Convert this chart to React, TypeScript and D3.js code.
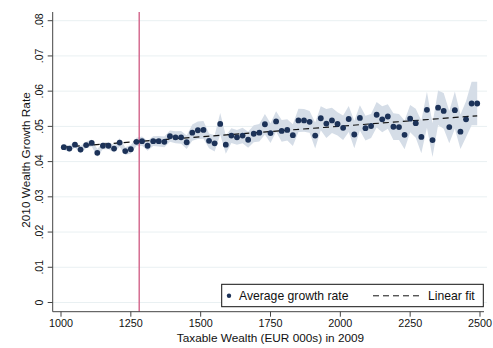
import React from "react";
import * as d3 from "d3";

const wealthBins = [
  1010, 1030, 1050, 1070, 1090, 1110, 1130, 1150, 1170, 1190,
  1210, 1230, 1250, 1270, 1290, 1310, 1330, 1350, 1370, 1390,
  1410, 1430, 1450, 1470, 1490, 1510, 1530, 1550, 1570, 1590,
  1610, 1630, 1650, 1670, 1690, 1710, 1730, 1750, 1770, 1790,
  1810, 1830, 1850, 1870, 1890, 1910, 1930, 1950, 1970, 1990,
  2010, 2030, 2050, 2070, 2090, 2110, 2130, 2150, 2170, 2190,
  2210, 2230, 2250, 2270, 2290, 2310, 2330, 2350, 2370, 2390,
  2410, 2430, 2450, 2470, 2490,
];

const growthRate = [
  0.0441, 0.0437, 0.0448, 0.0434, 0.0447, 0.0453, 0.0425, 0.0445, 0.0445, 0.0437,
  0.0454, 0.0430, 0.0435, 0.0456, 0.0458, 0.0445, 0.0458, 0.0458, 0.0456, 0.0472,
  0.0469, 0.0469, 0.0455, 0.0482, 0.0489, 0.0490, 0.0459, 0.0452, 0.0507, 0.0448,
  0.0474, 0.0469, 0.0474, 0.0462, 0.0479, 0.0482, 0.0506, 0.0481, 0.0514, 0.0487,
  0.0490, 0.0475, 0.0517, 0.0517, 0.0513, 0.0474, 0.0523, 0.0508, 0.0517, 0.0507,
  0.0496, 0.0521, 0.0477, 0.0524, 0.0495, 0.0501, 0.0533, 0.0520, 0.0528, 0.0499,
  0.0498, 0.0476, 0.0522, 0.0509, 0.0470, 0.0547, 0.0461, 0.0553, 0.0544, 0.0498,
  0.0546, 0.0485, 0.0520, 0.0565, 0.0565,
];

const ciHalfWidth = [
  0.0008, 0.0009, 0.0008, 0.0010, 0.0009, 0.0010, 0.0011, 0.0010, 0.0010, 0.0011,
  0.0012, 0.0011, 0.0012, 0.0012, 0.0013, 0.0014, 0.0014, 0.0015, 0.0015, 0.0016,
  0.0017, 0.0018, 0.0019, 0.0023, 0.0025, 0.0025, 0.0021, 0.0023, 0.0031, 0.0026,
  0.0021, 0.0021, 0.0022, 0.0023, 0.0024, 0.0025, 0.0029, 0.0028, 0.0029, 0.0031,
  0.0030, 0.0031, 0.0033, 0.0032, 0.0031, 0.0037, 0.0034, 0.0041, 0.0036, 0.0033,
  0.0035, 0.0037, 0.0039, 0.0036, 0.0035, 0.0034, 0.0036, 0.0037, 0.0035, 0.0038,
  0.0037, 0.0041, 0.0039, 0.0041, 0.0046, 0.0051, 0.0048, 0.0049, 0.0051, 0.0046,
  0.0053, 0.0049, 0.0051, 0.0062, 0.0062,
];

const fitX = [1010, 2490];
const fitY = [0.0441, 0.053];

const xTicks = [1000, 1250, 1500, 1750, 2000, 2250, 2500];
const yTicks = [0, 0.01, 0.02, 0.03, 0.04, 0.05, 0.06, 0.07, 0.08];
const yTickLabels = ["0", ".01", ".02", ".03", ".04", ".05", ".06", ".07", ".08"];
const cutoff = 1280;

const FONT = "'Liberation Sans', Arial, sans-serif";

export default function App() {
  const W = 493;
  const H = 348;
  const left = 52.7;
  const right = 487;
  const top = 12;
  const bottom = 311.7;

  const x = d3.scaleLinear().domain([1000, 2500]).range([61, 480]);
  const y = d3.scaleLinear().domain([0, 0.08]).range([302.5, 20.7]);

  const pts = wealthBins.map((w, i) => ({ w, v: growthRate[i], h: ciHalfWidth[i] }));

  const band = d3
    .area<{ w: number; v: number; h: number }>()
    .x((d) => x(d.w))
    .y0((d) => y(d.v - d.h))
    .y1((d) => y(d.v + d.h));

  const fitLine = d3
    .line<number>()
    .x((d) => x(d))
    .y((_, i) => y(fitY[i]));

  return (
    <svg
      width={W}
      height={H}
      style={{ position: "absolute", left: 0, top: 0, background: "#fff" }}
      fontFamily={FONT}
    >
      <rect x={0} y={0} width={W} height={H} fill="#fff" />
      {yTicks.map((t) => (
        <line key={"g" + t} x1={left} x2={right} y1={y(t)} y2={y(t)} stroke="#e9f0f2" strokeWidth={1} />
      ))}
      <path d={band(pts) || ""} fill="#d5dde7" />
      <line x1={x(cutoff)} x2={x(cutoff)} y1={top} y2={bottom} stroke="#d2638a" strokeWidth={1.4} />
      <path d={fitLine(fitX) || ""} fill="none" stroke="#111" strokeWidth={1.2} strokeDasharray="6,4" />
      {pts.map((p) => (
        <circle key={p.w} cx={x(p.w)} cy={y(p.v)} r={2.9} fill="#1c3258" />
      ))}
      {/* axes */}
      <line x1={left} x2={left} y1={top} y2={bottom} stroke="#444" strokeWidth={1} />
      <line x1={left} x2={right - 3} y1={bottom} y2={bottom} stroke="#444" strokeWidth={1} />
      {yTicks.map((t, i) => (
        <g key={"yt" + t}>
          <line x1={left - 5} x2={left} y1={y(t)} y2={y(t)} stroke="#444" />
          <text
            transform={`translate(${left - 10},${y(t)}) rotate(-90)`}
            textAnchor="middle"
            fontSize={10.5}
            fill="#111"
          >
            {yTickLabels[i]}
          </text>
        </g>
      ))}
      {xTicks.map((t) => (
        <g key={"xt" + t}>
          <line x1={x(t)} x2={x(t)} y1={bottom} y2={bottom + 5} stroke="#444" />
          <text x={x(t)} y={327} textAnchor="middle" fontSize={10.8} fill="#111">
            {t}
          </text>
        </g>
      ))}
      <text x={270.5} y={341.5} textAnchor="middle" fontSize={11.8} fill="#111">
        Taxable Wealth (EUR 000s) in 2009
      </text>
      <text
        transform={`translate(30,160) rotate(-90)`}
        textAnchor="middle"
        fontSize={11.8}
        fill="#111"
      >
        2010 Wealth Growth Rate
      </text>
      {/* legend */}
      <rect x={221.7} y={284.3} width={261.6} height={22.4} fill="#fff" stroke="#111" strokeWidth={1} />
      <circle cx={229} cy={295.8} r={2.2} fill="#1c3258" />
      <text x={239} y={300} fontSize={12.2} fill="#111">
        Average growth rate
      </text>
      <line x1={373} x2={421} y1={295.8} y2={295.8} stroke="#111" strokeWidth={1} strokeDasharray="6,4" />
      <text x={428} y={300} fontSize={12.2} fill="#111">
        Linear fit
      </text>
    </svg>
  );
}
